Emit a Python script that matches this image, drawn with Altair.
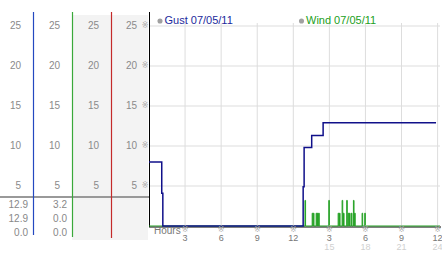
import altair as alt
import pandas as pd

# ---------------- data ----------------
gust_hours = [0.0, 1.06, 1.15, 12.82, 12.90, 13.53, 14.48, 23.87]
gust_values = [8.0, 4.1, 0.0, 4.9, 9.8, 11.3, 12.9, 12.9]

spike_hours = [12.97, 13.57, 13.67, 13.90, 14.01, 14.11, 14.95, 15.73, 15.84,
               16.06, 16.17, 16.44, 16.56, 16.67, 16.83, 17.00, 17.10, 17.72, 17.94]
spike_values = [3.2, 1.6, 1.6, 1.6, 1.6, 1.6, 3.2, 1.6, 1.6,
                3.2, 1.6, 3.2, 1.6, 1.6, 1.6, 3.2, 1.6, 1.6, 1.6]
wind_start, wind_end = 0.0, 24.2

y_ticks = [5, 10, 15, 20, 25]
x_ticks = [3, 6, 9, 12, 15, 18, 21, 24]
x_labels = ["3", "6", "9", "12", "3", "6", "9", "12"]
x_ticks2 = [15, 18, 21, 24]
x_labels2 = ["15", "18", "21", "24"]
legend_labels = ["Gust 07/05/11", "Wind 07/05/11"]
gust_stats = ["12.9", "12.9", "0.0"]
wind_stats = ["3.2", "0.0", "0.0"]

# ---------------- tables ----------------
gust_df = pd.DataFrame({"h": gust_hours, "v": gust_values})
wind_rows = [(wind_start, 0.0)]
for h, v in zip(spike_hours, spike_values):
    wind_rows.append((h, v))
    wind_rows.append((h + 0.05, 0.0))
wind_rows.append((wind_end, 0.0))
wind_df = pd.DataFrame(wind_rows, columns=["h", "v"])
ytick_df = pd.DataFrame({"v": y_ticks, "t": [str(t) for t in y_ticks]})
xtick_df = pd.DataFrame({"h": x_ticks, "t": x_labels})
xtick2_df = pd.DataFrame({"h": x_ticks2, "t": x_labels2})
one = pd.DataFrame({"a": [0]})

FONT = "Liberation Sans"
XS = alt.Scale(domain=[0, 24.2])
YS = alt.Scale(domain=[0, 26.75])
X = lambda: alt.X("h:Q", scale=XS, axis=None)
Y = lambda: alt.Y("v:Q", scale=YS, axis=None)

layers = []

# table background for columns 3 and 4
layers.append(alt.Chart(one).mark_rect(color="#f3f3f3").encode(
    x=alt.value(-77), x2=alt.value(-1), y=alt.value(3), y2=alt.value(228)))

# grid
layers.append(alt.Chart(ytick_df).mark_rule(color="#dddddd").encode(
    y=Y(), x=alt.value(0), x2=alt.value(291)))
layers.append(alt.Chart(xtick_df).mark_rule(color="#dddddd").encode(
    x=X(), y=alt.value(11), y2=alt.value(214)))

# divider
layers.append(alt.Chart(one).mark_rule(color="#999999", strokeWidth=2).encode(
    x=alt.value(-149), x2=alt.value(0), y=alt.value(185)))

# column lines
for px, col, bottom in [(-115.5, "#2448c0", 223), (-76.5, "#3aa83a", 225), (-37.5, "#c42a2a", 226)]:
    layers.append(alt.Chart(one).mark_rule(color=col, strokeWidth=1.2).encode(
        x=alt.value(px), y=alt.value(0), y2=alt.value(bottom)))

# column labels
for px in [-128, -89, -50, -12]:
    layers.append(alt.Chart(ytick_df).mark_text(
        align="right", baseline="middle", font=FONT, fontSize=10, color="#8a8a8a").encode(
        y=Y(), x=alt.value(px), text="t:N"))

# stats under divider
for px, stats in [(-121, gust_stats), (-82, wind_stats)]:
    layers.append(alt.Chart(pd.DataFrame({"t": ["\n".join(stats)]})).mark_text(
        align="right", baseline="top", font=FONT, fontSize=10, color="#888888",
        lineBreak="\n", lineHeight=14).encode(
        x=alt.value(px), y=alt.value(188), text="t:N"))

# y tick glyphs
layers.append(alt.Chart(ytick_df).mark_text(
    text="※", fontSize=8, color="#aaaaaa", font="DejaVu Sans").encode(
    y=Y(), x=alt.value(-4)))

# axes lines
layers.append(alt.Chart(one).mark_rule(color="black").encode(
    x=alt.value(0.5), y=alt.value(0), y2=alt.value(215)))
layers.append(alt.Chart(one).mark_rule(color="black").encode(
    x=alt.value(0), x2=alt.value(292), y=alt.value(215)))

# series
layers.append(alt.Chart(wind_df).mark_line(
    color="#22a022", strokeWidth=1, interpolate="step-after").encode(
    x=X(), y=Y(), order="h:Q"))
layers.append(alt.Chart(gust_df).mark_line(
    color="#10108a", strokeWidth=1.5, interpolate="step-after").encode(
    x=X(), y=Y(), order="h:Q"))

# x tick glyphs and labels
layers.append(alt.Chart(xtick_df).mark_text(
    text="※", fontSize=8, color="#aaaaaa", font="DejaVu Sans").encode(
    x=X(), y=alt.value(218)))
layers.append(alt.Chart(xtick_df).mark_text(
    baseline="middle", font=FONT, fontSize=9, color="#777777").encode(
    x=X(), y=alt.value(225.5), text="t:N"))
layers.append(alt.Chart(xtick2_df).mark_text(
    baseline="middle", font=FONT, fontSize=9, color="#d0d0d0").encode(
    x=X(), y=alt.value(235), text="t:N"))
layers.append(alt.Chart(one).mark_text(
    text="Hours", align="left", baseline="middle", font=FONT, fontSize=10,
    color="#777777").encode(x=alt.value(5), y=alt.value(219)))

# legend
for px, label, col in [(11, legend_labels[0], "#1c2a9c"), (152.5, legend_labels[1], "#22a022")]:
    layers.append(alt.Chart(one).mark_point(
        filled=True, color="#a0a0a0", size=26, opacity=1).encode(
        x=alt.value(px), y=alt.value(9)))
    layers.append(alt.Chart(pd.DataFrame({"t": [label]})).mark_text(
        align="left", baseline="middle", font=FONT, fontSize=11, color=col).encode(
        x=alt.value(px + 4.5), y=alt.value(9), text="t:N"))

chart = alt.layer(*layers).properties(
    width=291, height=214,
    autosize=alt.AutoSizeParams(type="none"),
    padding={"left": 149, "top": 12, "right": 2, "bottom": 27},
    background="white",
).configure_view(stroke=None)

chart.save("out.html", embed_options={"renderer": "svg", "actions": False})
